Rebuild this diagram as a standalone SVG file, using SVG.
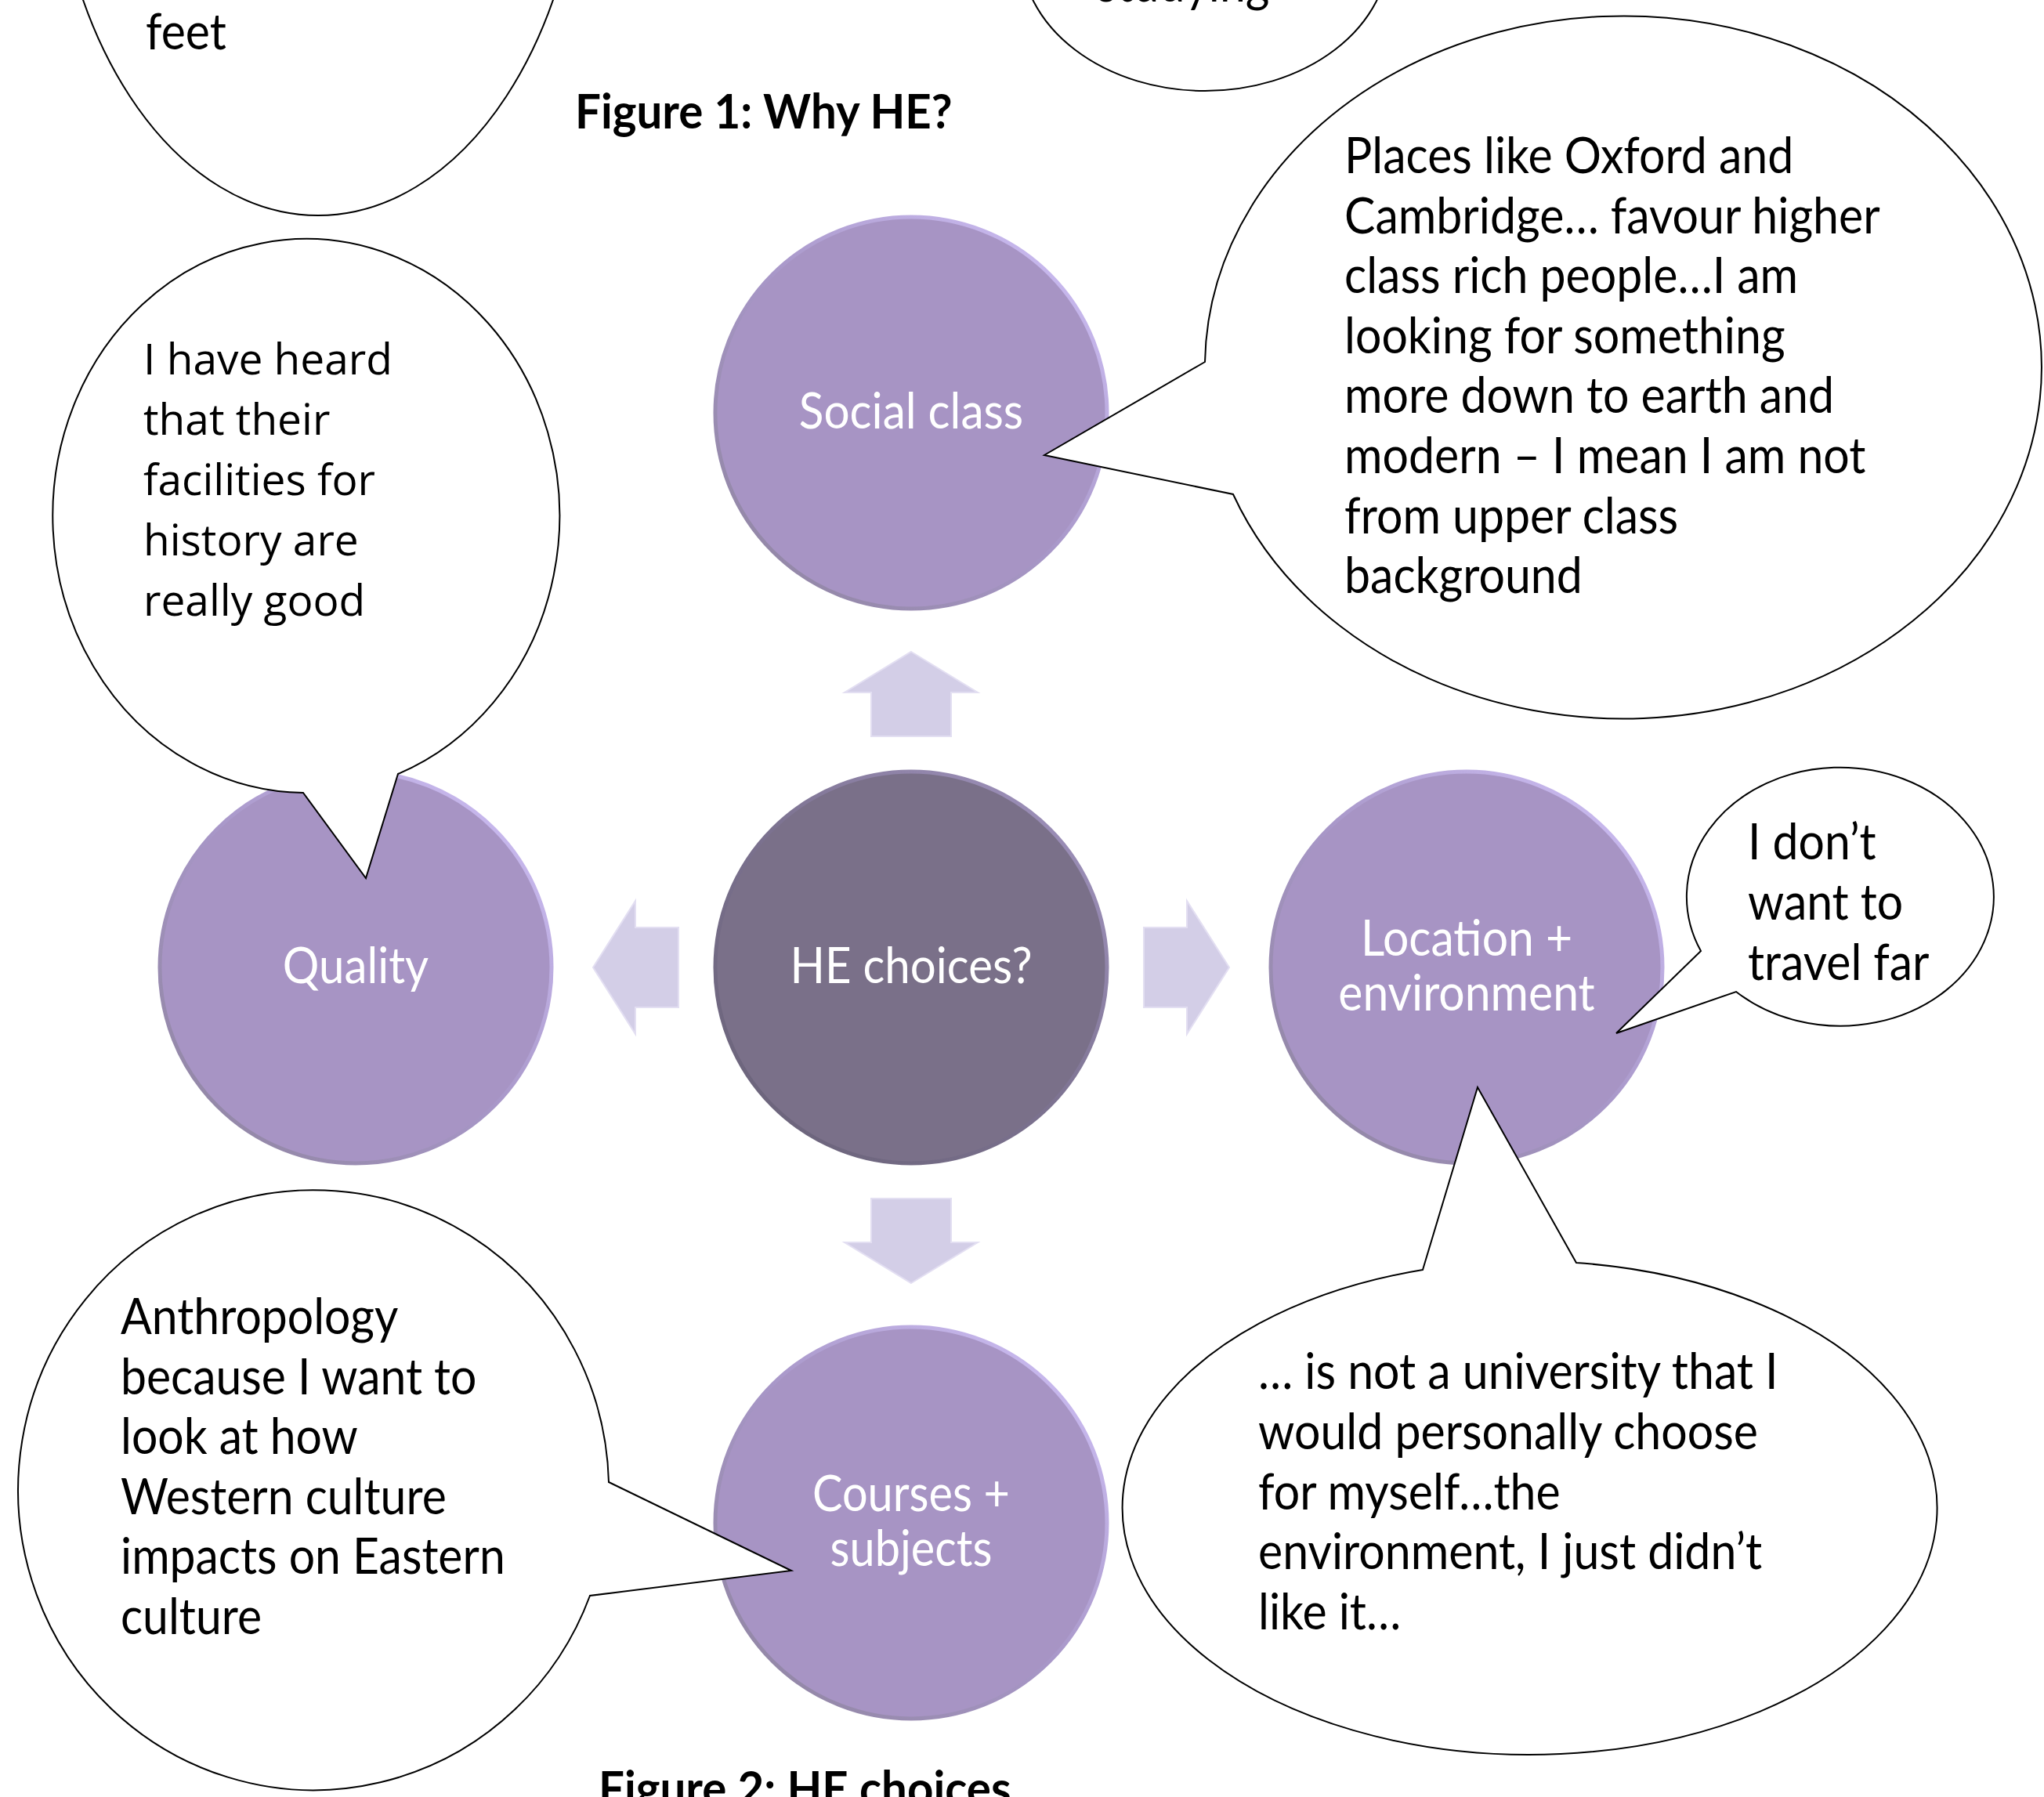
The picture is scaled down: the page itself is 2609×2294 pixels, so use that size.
<svg xmlns="http://www.w3.org/2000/svg" width="2609" height="2294" viewBox="0 0 2609 2294">
<defs>
  <linearGradient id="rimL" x1="1" y1="0" x2="0" y2="1">
    <stop offset="0" stop-color="#D2C3FA"/>
    <stop offset="0.5" stop-color="#A897C8"/>
    <stop offset="1" stop-color="#8C829C"/>
  </linearGradient>
  <linearGradient id="rimD" x1="1" y1="0" x2="0" y2="1">
    <stop offset="0" stop-color="#A597C4"/>
    <stop offset="0.5" stop-color="#7C7290"/>
    <stop offset="1" stop-color="#676075"/>
  </linearGradient>
</defs>
<style>
  .node-l { fill:#A794C4; stroke:url(#rimL); stroke-width:5; }
  .node-d { fill:#7A7089; stroke:url(#rimD); stroke-width:5; }
  .lbl { font-family:Lato, "Liberation Sans", sans-serif; font-size:63px; fill:#ffffff; text-anchor:middle; }
  .arrow { fill:#D3CEE7; stroke:#E3DFF2; stroke-width:2; }
  .bubble { fill:#ffffff; stroke:#000000; stroke-width:2; }
  .q { font-family:Lato, "Liberation Sans", sans-serif; font-size:63px; fill:#000000; }
  .q2 { font-family:"Open Sans", "Liberation Sans", sans-serif; font-size:55px; fill:#000000; }
  .title { font-family:Lato, "Liberation Sans", sans-serif; font-size:62px; font-weight:bold; fill:#000000; }
</style>
<rect width="2609" height="2294" fill="#ffffff"/>

<g id="connectors">
  <polygon class="arrow" points="1163,832 1248,884 1214,884 1214,940 1112,940 1112,884 1078,884"/>
  <polygon class="arrow" points="1163,1638 1248,1586 1214,1586 1214,1530 1112,1530 1112,1586 1078,1586"/>
  <polygon class="arrow" points="757,1235 811,1150 811,1184 866,1184 866,1286 811,1286 811,1320"/>
  <polygon class="arrow" points="1569,1235 1515,1150 1515,1184 1460,1184 1460,1286 1515,1286 1515,1320"/>
</g>

<g id="node-he-choices">
  <circle class="node-d" cx="1163" cy="1235" r="250"/>
  <text class="lbl" transform="translate(1163 1255) scale(0.925 1)">HE choices?</text>
</g>
<g id="node-social-class">
  <circle class="node-l" cx="1163" cy="527" r="250"/>
  <text class="lbl" transform="translate(1163 547) scale(0.93 1)">Social class</text>
</g>
<g id="node-quality">
  <circle class="node-l" cx="454" cy="1235" r="250"/>
  <text class="lbl" transform="translate(454 1255) scale(0.925 1)">Quality</text>
</g>
<g id="node-location">
  <circle class="node-l" cx="1872" cy="1235" r="250"/>
  <text class="lbl" transform="translate(1872 1220) scale(0.935 1)"><tspan x="0" y="0">Location +</tspan><tspan x="0" y="70">environment</tspan></text>
</g>
<g id="node-courses">
  <circle class="node-l" cx="1163" cy="1944" r="250"/>
  <text class="lbl" transform="translate(1163 1929) scale(0.915 1)"><tspan x="0" y="0">Courses +</tspan><tspan x="0" y="70">subjects</tspan></text>
</g>

<g id="bubble-feet">
  <ellipse class="bubble" cx="406" cy="-245" rx="340" ry="520"/>
  <text class="q" transform="translate(186 63) scale(0.935 1)">feet</text>
</g>
<g id="bubble-studying">
  <ellipse class="bubble" cx="1538" cy="-64" rx="235" ry="180"/>
  <text class="q" transform="translate(1400 2) scale(0.935 1)">studying</text>
</g>
<g id="bubble-quality">
  <path class="bubble" d="M387,1012 L467,1121 L508,988 A323.5,353.5 0 1 0 387,1012 Z"/>
  <text class="q2"><tspan x="183" y="478">I have heard</tspan><tspan x="183" y="555">that their</tspan><tspan x="183" y="632">facilities for</tspan><tspan x="183" y="709">history are</tspan><tspan x="183" y="786">really good</tspan></text>
</g>
<g id="bubble-social">
  <path class="bubble" d="M1538,462 L1333,581 L1574,631 A534,448.5 0 1 0 1538,462 Z"/>
  <text class="q" transform="translate(1716 221) scale(0.937 1)"><tspan x="0" y="0">Places like Oxford and</tspan><tspan x="0" y="77">Cambridge… favour higher</tspan><tspan x="0" y="153">class rich people…I am</tspan><tspan x="0" y="230">looking for something</tspan><tspan x="0" y="306">more down to earth and</tspan><tspan x="0" y="383">modern – I mean I am not</tspan><tspan x="0" y="460">from upper class</tspan><tspan x="0" y="536">background</tspan></text>
</g>
<g id="bubble-travel">
  <path class="bubble" d="M2171,1214 L2063,1319 L2216,1266 A196,165 0 1 0 2171,1214 Z"/>
  <text class="q" transform="translate(2231 1097) scale(0.935 1)"><tspan x="0" y="0">I don’t</tspan><tspan x="0" y="77">want to</tspan><tspan x="0" y="154">travel far</tspan></text>
</g>
<g id="bubble-environment">
  <path class="bubble" d="M1816,1621 L1886,1388 L2012,1612 A520,315 0 1 1 1816,1621 Z"/>
  <text class="q" transform="translate(1606 1773) scale(0.937 1)"><tspan x="0" y="0">… is not a university that I</tspan><tspan x="0" y="77">would personally choose</tspan><tspan x="0" y="154">for myself…the</tspan><tspan x="0" y="230">environment, I just didn’t</tspan><tspan x="0" y="307">like it…</tspan></text>
</g>
<g id="bubble-courses">
  <path class="bubble" d="M777,1892 L1010,2005 L753,2037 A377,383 0 1 1 777,1892 Z"/>
  <text class="q" transform="translate(154 1703) scale(0.935 1)"><tspan x="0" y="0">Anthropology</tspan><tspan x="0" y="77">because I want to</tspan><tspan x="0" y="153">look at how</tspan><tspan x="0" y="230">Western culture</tspan><tspan x="0" y="306">impacts on Eastern</tspan><tspan x="0" y="383">culture</tspan></text>
</g>

<g id="captions">
  <text class="title" transform="translate(734 164) scale(0.94 1)">Figure 1: Why HE?</text>
  <text class="title" transform="translate(764 2305) scale(0.94 1)">Figure 2: HE choices</text>
</g>
</svg>
